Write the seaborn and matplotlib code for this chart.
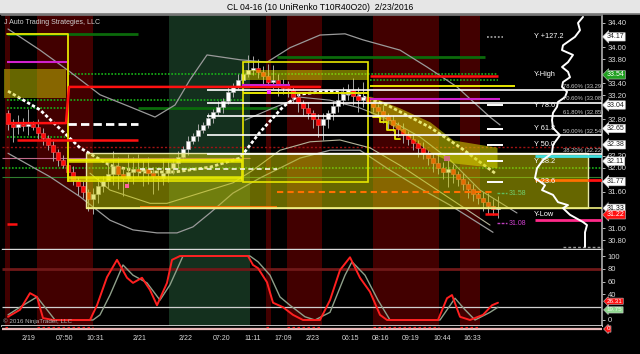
import numpy as np
import pandas as pd
import matplotlib
matplotlib.use("Agg")
import matplotlib.pyplot as plt
import seaborn as sns
from matplotlib.patches import Rectangle

# ---------------- price bars (UniRenko) ----------------
first_open = 32.91
closes = [32.73, 32.68, 32.73, 32.69, 32.73, 32.68, 32.58, 32.49, 32.38, 32.26,
          32.13, 32.04, 31.93, 31.80, 31.70, 31.60, 31.48, 31.57, 31.70, 31.78,
          31.90, 32.03, 31.90, 31.83, 31.93, 31.98, 31.95, 31.98, 31.91, 31.86,
          31.83, 31.91, 31.99, 32.08, 32.18, 32.31, 32.44, 32.53, 32.62, 32.71,
          32.82, 32.92, 33.01, 33.11, 33.26, 33.35, 33.45, 33.55, 33.62, 33.65,
          33.59, 33.52, 33.42, 33.45, 33.39, 33.32, 33.29, 33.17, 33.07, 32.99,
          32.91, 32.81, 32.71, 32.81, 32.91, 33.02, 33.12, 33.22, 33.29, 33.19,
          33.12, 33.17, 33.07, 33.01, 32.94, 32.86, 32.79, 32.71, 32.64, 32.56,
          32.48, 32.41, 32.33, 32.24, 32.16, 32.08, 31.99, 31.93, 31.98, 31.90,
          31.81, 31.73, 31.65, 31.57, 31.50, 31.43, 31.36, 31.31, 31.35]
wick_up = [0.05, 0.08, 0.15, 0.10, 0.25, 0.05, 0.12, 0.08, 0.05, 0.10,
           0.05, 0.08, 0.05, 0.10, 0.05, 0.08, 0.05, 0.10, 0.15, 0.08,
           0.20, 0.25, 0.15, 0.10, 0.30, 0.20, 0.25, 0.15, 0.20, 0.10,
           0.15, 0.25, 0.12, 0.08, 0.10, 0.05, 0.08, 0.05, 0.10, 0.05,
           0.08, 0.05, 0.10, 0.05, 0.08, 0.05, 0.10, 0.15, 0.25, 0.20,
           0.15, 0.10, 0.20, 0.25, 0.10, 0.08, 0.12, 0.05, 0.08, 0.05,
           0.10, 0.05, 0.08, 0.10, 0.05, 0.08, 0.15, 0.12, 0.10, 0.20,
           0.15, 0.25, 0.10, 0.08, 0.05, 0.10, 0.05, 0.08, 0.05, 0.10,
           0.05, 0.08, 0.05, 0.10, 0.05, 0.08, 0.15, 0.10, 0.20, 0.08,
           0.05, 0.10, 0.05, 0.08, 0.05, 0.10, 0.15, 0.12, 0.18]
wick_dn = [0.10, 0.25, 0.12, 0.08, 0.15, 0.05, 0.10, 0.12, 0.08, 0.15,
           0.10, 0.05, 0.12, 0.08, 0.15, 0.10, 0.20, 0.25, 0.15, 0.10,
           0.12, 0.18, 0.25, 0.30, 0.15, 0.20, 0.10, 0.25, 0.18, 0.30,
           0.20, 0.12, 0.15, 0.10, 0.08, 0.05, 0.10, 0.05, 0.08, 0.05,
           0.05, 0.08, 0.05, 0.10, 0.05, 0.08, 0.05, 0.10, 0.05, 0.08,
           0.10, 0.15, 0.08, 0.12, 0.20, 0.10, 0.12, 0.10, 0.15, 0.12,
           0.10, 0.15, 0.20, 0.25, 0.15, 0.12, 0.10, 0.08, 0.10, 0.15,
           0.20, 0.12, 0.10, 0.08, 0.10, 0.12, 0.15, 0.10, 0.12, 0.15,
           0.10, 0.12, 0.15, 0.10, 0.12, 0.15, 0.10, 0.12, 0.25, 0.15,
           0.12, 0.10, 0.15, 0.12, 0.10, 0.15, 0.12, 0.10, 0.15]

# ---------------- session shading (bar index ranges) ----------------
red_sessions = [(-0.6, 0.4), (5.8, 17.0), (51.6, 52.6), (55.8, 62.8), (73.0, 86.2), (90.4, 94.4)]
green_sessions = [(32.2, 48.4)]

# ---------------- moving averages / bands (bar index, price) ----------------
upper_x = [0, 6.4, 12.4, 18.4, 24.4, 29.4, 33.4, 36.4, 39.8, 46.4, 51.8, 56.4, 62.4, 67.4, 71, 78.4, 83.8, 89.8, 96.4, 98.4]
upper_p = [34.30, 33.95, 33.59, 33.21, 33.01, 32.84, 33.04, 33.46, 33.87, 33.79, 33.75, 33.99, 34.20, 34.22, 34.12, 33.95, 33.67, 33.34, 32.84, 32.71]
lower_x = [0, 8.4, 14.4, 20.4, 25, 29.8, 33.8, 37, 40.4, 45, 50.4, 58.4, 64.4, 70.4, 76.4, 82.4, 88.4, 97]
lower_p = [32.24, 31.85, 31.52, 31.13, 30.97, 30.92, 30.92, 31.02, 31.25, 31.58, 31.83, 32.16, 32.29, 32.29, 31.96, 31.66, 31.38, 30.93]
midlow_x = [16.4, 20.4, 28.4, 31.8, 38.4, 45, 49, 54.4, 60.4, 66.4, 72.4, 78.4, 84.4, 90.4, 96.4]
midlow_p = [31.91, 31.63, 31.41, 31.41, 31.58, 31.75, 31.96, 32.29, 32.43, 32.46, 32.33, 32.04, 31.71, 31.38, 31.05]
mid_x = [47.4, 53, 58.4, 64.4, 70.4, 76.4, 82.4, 88.4, 94.4, 101.8]
mid_p = [32.79, 32.99, 33.17, 33.12, 32.99, 32.79, 32.51, 32.13, 31.63, 31.25]
slow_x = [0, 6.4, 14.4, 20.4, 26.4, 33.4, 40.4, 46.4, 50.4, 55, 58.4, 64.4, 70.4, 75.8, 84.4, 90.4, 97.4]
slow_p = [33.27, 32.96, 32.33, 32.04, 31.93, 31.93, 32.01, 32.16, 32.59, 33.01, 33.22, 33.27, 33.19, 33.04, 32.67, 32.34, 31.91]

# ---------------- zones ----------------
olive_x0 = [-0.8, 15.6]
olive_x1 = [11.6, 116.0]
olive_lo = [33.16, 31.33]
olive_hi = [33.64, 32.24]
frame_x0 = [12.0, 47.0]
frame_x1 = [46.8, 72.0]
frame_lo = [31.78, 31.76]
frame_hi = [32.13, 33.76]
top_ribbon_x = [47.0, 72.0]
top_ribbon_lo = [33.46, 33.46]
top_ribbon_hi = [33.62, 33.62]
dn_ribbon_x = [72.4, 78.4, 84.4, 89.0, 97.8]
dn_ribbon_hi = [33.19, 32.99, 32.76, 32.46, 32.34]
dn_ribbon_lo = [32.91, 32.62, 32.26, 32.08, 32.00]
stop_x = [73.0, 74.4, 75.8, 77.4, 78.4]
stop_p = [32.84, 32.76, 32.63, 32.48, 32.48]

# ---------------- horizontal levels ----------------
fib_p = [33.29, 33.08, 32.85, 32.54, 32.22]
fib_pct = ["78.60%", "70.60%", "61.80%", "50.00%", "38.20%"]
y_levels = [34.17, 33.54, 33.04, 32.65, 32.38, 32.11, 31.77, 31.22]
y_names = ["Y +127.2", "Y-High", "Y 78.6", "Y 61.8", "Y 50.0", "Y 38.2", "Y 23.6", "Y-Low"]
gdot_p = [33.55, 33.46, 33.12, 32.99, 32.51, 32.00]
gdot_x0 = [12.0, 72.4, -0.2, -0.2, -0.2, -1.2]
gdot_x1 = [98.0, 98.0, 46.8, 11.8, 11.8, 118.8]
dkg_p = [34.22, 33.84, 32.99]
dkg_x0 = [-0.2, 53.8, 26.0]
dkg_x1 = [26.0, 95.4, 53.8]
red_p = [32.46, 33.52, 31.23, 31.07]
red_x0 = [1.8, 72.4, 95.4, -0.2]
red_x1 = [26.0, 98.0, 98.0, 1.8]
redstep_x = [-0.2, 11.6, 12.2, 62.4]
redstep_p = [32.74, 32.74, 33.34, 33.34]
mag_p = [33.75, 33.37, 33.14]
mag_x0 = [-0.2, 46.8, 72.4]
mag_x1 = [11.8, 56.4, 98.4]
yel_p = [33.355, 33.24]
yel_x0 = [72.4, 47.0]
yel_x1 = [101.4, 72.0]
j_x = [-0.2, 12.0, 12.0]
j_p = [34.22, 34.22, 31.78]
glow_p = [32.11, 31.83]
glow_x0, glow_x1 = 12.0, 46.8

last_price = 31.33
target_hi, target_lo = 31.58, 31.08
markers_x = [52.2, 23.8, 87.8]
markers_p = [33.26, 31.70, 32.15]

# right-side volume profile
prof_p = [34.50, 34.40, 34.28, 34.17, 34.03, 33.95, 33.87, 33.75, 33.67, 33.59, 33.50, 33.42, 33.34,
          33.26, 33.17, 33.09, 33.01, 32.91, 32.79, 32.66, 32.54, 32.38, 32.24, 32.13, 31.99, 31.83,
          31.71, 31.63, 31.55, 31.43, 31.38, 31.33, 31.22, 31.10, 31.05, 30.93, 30.83, 30.69]
prof_v = [17, 22, 20, 25, 37, 38, 27, 32, 38, 32, 30, 37, 38, 33, 35, 42, 43, 47, 48, 47, 40, 47, 48,
          57, 63, 65, 55, 58, 47, 42, 32, 37, 30, 17, 13, 15, 15, 15]

# ---------------- stochastic ----------------
k_x = [0, 2.4, 4.4, 5.8, 7, 9, 16.4, 17.8, 19.8, 21.8, 23.8, 25, 26.8, 28.4, 29.8, 31.8, 32.8, 34.4,
       48, 49, 50, 51.8, 53, 55, 57, 59, 62.4, 64.4, 66.4, 68.4, 70.4, 72.4, 74.4, 75.8, 86, 87.8,
       88.8, 90.4, 92.4, 95, 96.8, 98]
k_v = [5, 16, 42, 36, 3, 0, 0, 23, 67, 94, 66, 58, 66, 47, 23, 58, 94, 100,
       100, 86, 81, 59, 27, 20, 8, 0, 0, 31, 78, 98, 66, 44, 8, 0, 0, 34,
       39, 5, 0, 8, 23, 27]
d_x = [0, 2.4, 5.8, 7.8, 9.4, 17, 18.4, 20.4, 23, 25, 27.8, 30.4, 32.4, 35, 48.4, 50, 52.4, 54.4,
       56.4, 59.4, 61.4, 64.4, 67.4, 68.8, 71.4, 74, 76.4, 86.4, 89.4, 91.4, 93.4, 96.4, 98]
d_v = [8, 20, 36, 16, 0, 0, 8, 39, 86, 70, 58, 31, 55, 100, 100, 91, 70, 36,
       23, 5, 0, 12, 70, 91, 70, 31, 0, 0, 34, 16, 0, 12, 20]
k_last, d_last = 26.31, 19.75

date_pos = [4.2, 11.4, 17.4, 26.4, 35.6, 42.8, 49.0, 55.0, 61.0, 68.4, 74.4, 80.6, 86.8, 92.8]
date_lab = ["2/19", "07:50", "10:31", "2/21", "2/22", "07:20", "11:11", "17:09", "2/23",
            "06:15", "08:16", "09:19", "10:44", "16:33"]

price_ticks = [34.40, 34.00, 33.80, 33.40, 33.20, 32.80, 32.20, 32.00, 31.60, 31.00, 30.80]
osc_ticks = [0, 40, 60, 80, 100]

title = "CL 04-16 (10 UniRenko T10R40O20)  2/23/2016"

# ======================================================================
sns.set_theme(style="dark", rc={"axes.facecolor": "black", "figure.facecolor": "black"})
plt.rcParams["font.family"] = ["Liberation Sans", "DejaVu Sans"]

W, H = 640, 354
def fbox(x0, y0, x1, y1):
    return [x0 / W, 1 - y1 / H, (x1 - x0) / W, (y1 - y0) / H]

fig = plt.figure(figsize=(6.4, 3.54), dpi=100, facecolor="black")
axt = fig.add_axes(fbox(0, 0, 640, 14))
ax = fig.add_axes(fbox(2, 15, 602, 249))
axo = fig.add_axes(fbox(2, 250, 602, 326), sharex=ax)
axs = fig.add_axes(fbox(2, 326, 602, 331), sharex=ax)

TXT = "#d8d8d8"
RED_BG = "#420000"
GRN_BG = "#14301e"

# title band
axt.set_facecolor("#e6e6e6")
axt.set_xticks([]); axt.set_yticks([])
for s in ["top", "left", "right"]:
    axt.spines[s].set_visible(False)
axt.spines["bottom"].set_color("#7a7a7a")
axt.text(0.5, 0.45, title, ha="center", va="center", fontsize=6.2, color="black",
         transform=axt.transAxes)

df = pd.DataFrame({"bar": np.arange(len(closes)), "close": closes})
df["open"] = [first_open] + closes[:-1]
df["high"] = df[["open", "close"]].max(axis=1) + np.array(wick_up)
df["low"] = df[["open", "close"]].min(axis=1) - np.array(wick_dn)
up = df["close"] > df["open"]

for a in (ax, axo):
    a.set_facecolor("black")
    for x0, x1 in red_sessions:
        a.axvspan(x0, x1, color=RED_BG, lw=0, zorder=0)
    for x0, x1 in green_sessions:
        a.axvspan(x0, x1, color=GRN_BG, lw=0, zorder=0)

# ---------- main panel ----------
def seg(a, p, x0, x1, **kw):
    a.hlines(p, x0, x1, **kw)

seg(ax, 32.34, -1.2, 118.8, colors="#a01414", linestyles=(0, (1.5, 1.5)), lw=1, zorder=1.5)
seg(ax, 31.85, -1.2, 118.8, colors="#2f7d2f", lw=0.8, zorder=1.5)
seg(ax, 32.16, -1.2, 48.4, colors="#c06a8a", lw=0.8, zorder=1.5)
seg(ax, dkg_p, dkg_x0, dkg_x1, colors="#0b6a0b", lw=2, zorder=1.6)
seg(ax, gdot_p, gdot_x0, gdot_x1, colors="#19b319", linestyles=(0, (1, 1)), lw=1.2, zorder=1.6)

for xs, ps, col, lw in [(upper_x, upper_p, "#9a9a9a", 0.9), (lower_x, lower_p, "#9a9a9a", 0.9),
                        (midlow_x, midlow_p, "#b4b49a", 0.8), (mid_x, mid_p, "#a0a0a0", 0.8)]:
    sns.lineplot(x=xs, y=ps, ax=ax, color=col, lw=lw, estimator=None, sort=False, zorder=2)
sns.lineplot(x=slow_x, y=slow_p, ax=ax, color="white", lw=2, estimator=None, sort=False,
             linestyle=(0, (1.2, 0.8)), zorder=2.2)

# candles
ax.vlines(df["bar"], df["low"], df["high"], color="#a8a8a8", lw=0.7, zorder=3)
ax.bar(df["bar"][up], (df["close"] - df["open"])[up], bottom=df["open"][up], width=0.74,
       color="white", edgecolor="#b0b0b0", lw=0.4, zorder=3.2)
ax.bar(df["bar"][~up], (df["close"] - df["open"])[~up], bottom=df["open"][~up], width=0.74,
       color="#ff0a0a", edgecolor="#ff5050", lw=0.4, zorder=3.2)

# translucent zones
for x0, x1, lo, hi in zip(olive_x0, olive_x1, olive_lo, olive_hi):
    ax.add_patch(Rectangle((x0, lo), x1 - x0, hi - lo, fc="#cccc00", alpha=0.5, ec="none", zorder=4))
ax.add_patch(Rectangle((olive_x0[1], olive_lo[1]), olive_x1[1] - olive_x0[1], olive_hi[1] - olive_lo[1],
                       fill=False, ec="#e8e8a8", lw=1, zorder=4.5))
ax.fill_between(top_ribbon_x, top_ribbon_lo, top_ribbon_hi, color="#e0e000", alpha=0.5, lw=0, zorder=4)
ax.fill_between(dn_ribbon_x, dn_ribbon_lo, dn_ribbon_hi, color="#d8d800", alpha=0.55, lw=0, zorder=4)
for x0, x1, lo, hi in zip(frame_x0, frame_x1, frame_lo, frame_hi):
    ax.add_patch(Rectangle((x0, lo), x1 - x0, hi - lo, fill=False, ec="#e6e600", lw=1.2, zorder=4.6))
seg(ax, glow_p, glow_x0, glow_x1, colors="#f0f000", lw=2.6, alpha=0.85, zorder=4.6)
sns.lineplot(x=j_x, y=j_p, ax=ax, color="#e6e600", lw=1.3, estimator=None, sort=False, zorder=4.6)
sns.lineplot(x=stop_x, y=stop_p, ax=ax, color="#e6e600", lw=1.3, estimator=None, sort=False,
             drawstyle="steps-post", zorder=4.6)

# level lines
seg(ax, fib_p, 39.8, 118.8, colors="white", lw=1.2, zorder=5)
seg(ax, red_p, red_x0, red_x1, colors="#ff1010", lw=1.8, zorder=5)
sns.lineplot(x=redstep_x, y=redstep_p, ax=ax, color="#ff1010", lw=1.8, estimator=None, sort=False, zorder=5)
seg(ax, mag_p, mag_x0, mag_x1, colors="#d020d0", lw=1.5, zorder=5)
seg(ax, yel_p, yel_x0, yel_x1, colors="#e6e600", lw=1.4, zorder=5)
seg(ax, 31.60, 53.8, 97.4, colors="#ff7000", linestyles=(0, (3, 2)), lw=1.5, zorder=5)
seg(ax, 31.35, 26.4, 53.8, colors="#ff7000", lw=1.3, zorder=5)
seg(ax, 32.72, 12.0, 26.0, colors="white", linestyles=(0, (3, 1.5)), lw=2, zorder=5)
seg(ax, 31.98, 26.4, 53.8, colors="#f4f4e0", linestyles=(0, (3, 2)), lw=1.2, zorder=5)
seg(ax, last_price, 15.6, 118.8, colors="#f0f080", lw=1.2, zorder=5)
seg(ax, 32.19, 105.4, 118.8, colors="#40e0e0", lw=2, zorder=5)
seg(ax, 31.80, 105.4, 116.0, colors="#ff7000", lw=2, zorder=5)
seg(ax, 31.80, 116.0, 118.8, colors="#ff1010", lw=2, zorder=5)
seg(ax, 31.13, 105.4, 118.8, colors="#ff2a8a", lw=2, zorder=5)
seg(ax, 30.69, 111.0, 118.8, colors="#9a9a9a", linestyles=(0, (2, 1.5)), lw=1, zorder=5)
seg(ax, y_levels[0], 95.8, 99.0, colors="#9a9a9a", linestyles=(0, (1, 1)), lw=1.3, zorder=5)
seg(ax, y_levels[2:7], 95.8, 99.0, colors="white", lw=1.4, zorder=5)
seg(ax, target_hi, 97.8, 99.8, colors="#60c060", linestyles=(0, (2, 1)), lw=1, zorder=5)
seg(ax, target_lo, 97.8, 99.8, colors="#c040c0", linestyles=(0, (2, 1)), lw=1, zorder=5)
ax.text(100.2, target_hi, f"{target_hi:.2f}", color="#70d070", fontsize=5, va="center", zorder=6)
ax.text(100.2, target_lo, f"{target_lo:.2f}", color="#d040d0", fontsize=5, va="center", zorder=6)
ax.scatter(markers_x, markers_p, s=[9, 9, 14], c=["#ff30ff", "#ff60a0", "#d07080"], marker="s",
           lw=0, zorder=6)

for p, n in zip(y_levels, y_names):
    ax.text(105.2, p, n, color="white", fontsize=5.3, va="center", ha="left", zorder=6)
for p, pct in zip(fib_p, fib_pct):
    ax.text(111.0, p + 0.02, f"{pct} ({p:.2f})", color="#c8c8c8", fontsize=4.2, va="bottom",
            ha="left", zorder=6)
ax.text(0.004, 0.985, "J Auto Trading Strategies, LLC", transform=ax.transAxes, color="#d0d0d0",
        fontsize=5, va="top", ha="left", zorder=7)

# volume profile
axp = ax.inset_axes([528 / 600, 0, 72 / 600, 1], zorder=5.5)
axp.patch.set_visible(False)
sns.lineplot(x=prof_v, y=prof_p, ax=axp, color="white", lw=1.4, estimator=None, sort=False)
axp.set_xlim(70, -2)
axp.set_xticks([]); axp.set_yticks([])
axp.set_xlabel(""); axp.set_ylabel("")
axp.set_axis_off()

ax.set_xlim(-1.2, 118.8)
ax.set_ylim(30.653, 34.532)
axp.set_ylim(30.653, 34.532)
ax.yaxis.tick_right()
ax.set_yticks(price_ticks)
ax.set_yticklabels([f"{v:.2f}" for v in price_ticks])
ax.tick_params(axis="y", colors=TXT, labelsize=5.5, length=2.5, width=0.6, pad=1.5, direction="out")
ax.tick_params(axis="x", bottom=False, labelbottom=False)
ax.set_xlabel(""); ax.set_ylabel("")
ax.spines["left"].set_visible(False)
ax.spines["top"].set_color("#7a7a7a")
ax.spines["right"].set_color("#a8a8a8")
ax.spines["bottom"].set_color("#d8d8d8")
ax.spines["bottom"].set_linewidth(1)

def tag(a, val, text, fc, tc, ec="#c8c8c8", fs=5):
    a.annotate(text, xy=(1.0, val), xycoords=a.get_yaxis_transform(), xytext=(3.5, 0),
               textcoords="offset points", fontsize=fs, color=tc, va="center", ha="left",
               bbox=dict(boxstyle="larrow,pad=0.1", fc=fc, ec=ec, lw=0.4),
               annotation_clip=False, zorder=8)

for v in [34.17, 33.04, 32.65, 32.38, 32.11, 31.77]:
    tag(ax, v, f"{v:.2f}", "white", "#202020")
tag(ax, 33.54, "33.54", "#20a020", "white")
tag(ax, last_price, f"{last_price:.2f}", "white", "black", ec="#404040")
tag(ax, 31.22, "31.22", "#ff1010", "white")

# ---------- stochastic panel ----------
seg(axo, 80, -1.2, 118.8, colors="#701818", lw=2, zorder=1)
seg(axo, 20, -1.2, 118.8, colors="#d0d0d0", lw=0.9, zorder=1)
sns.lineplot(x=d_x, y=d_v, ax=axo, color="#8fa08a", lw=1.0, estimator=None, sort=False, zorder=2)
sns.lineplot(x=k_x, y=k_v, ax=axo, color="#ff2020", lw=1.4, estimator=None, sort=False, zorder=3)
axo.set_ylim(-9.4, 109.4)
axo.yaxis.tick_right()
axo.set_yticks(osc_ticks)
axo.set_yticklabels([str(v) for v in osc_ticks])
axo.tick_params(axis="y", colors=TXT, labelsize=5.5, length=2.5, width=0.6, pad=1.5)
axo.tick_params(axis="x", bottom=False, labelbottom=False)
axo.set_xlabel(""); axo.set_ylabel("")
axo.spines["left"].set_visible(False)
axo.spines["top"].set_visible(False)
axo.spines["right"].set_color("#a8a8a8")
axo.spines["bottom"].set_color("#d8d8d8")
tag(axo, k_last + 3, f"{k_last:.2f}", "#ff1010", "white", fs=4.5)
tag(axo, d_last - 4, f"{d_last:.2f}", "#90d890", "#eaffea", fs=4.5)
axo.text(0.001, 0.02, "\u00a9 2016 NinjaTrader, LLC", transform=axo.transAxes, color="#b8b8b8",
         fontsize=4.5, va="bottom", ha="left")

# ---------- bottom strip with dates ----------
axs.set_facecolor("black")
axs.set_ylim(0, 1)
axs.axhline(0.4, color="#e8b8b8", lw=1.6)
for x0, x1 in red_sessions:
    axs.hlines(0.85, x0, x1, colors="#ff2020", linestyles=(0, (2, 2)), lw=0.9)
axs.set_yticks([])
axs.set_xticks(date_pos)
axs.set_xticklabels(date_lab)
axs.tick_params(axis="x", colors=TXT, labelsize=5, length=2, width=0.6, pad=0.8)
for s in ["left", "top", "right", "bottom"]:
    axs.spines[s].set_visible(False)
axs.annotate("0", xy=(1.0, 0.4), xycoords=axs.get_yaxis_transform(), xytext=(3.5, 0),
             textcoords="offset points", fontsize=4.5, color="white", va="center", ha="left",
             bbox=dict(boxstyle="larrow,pad=0.1", fc="#ff1010", ec="#c8c8c8", lw=0.4),
             annotation_clip=False)

fig.savefig("out.png", dpi=100, facecolor="black")
